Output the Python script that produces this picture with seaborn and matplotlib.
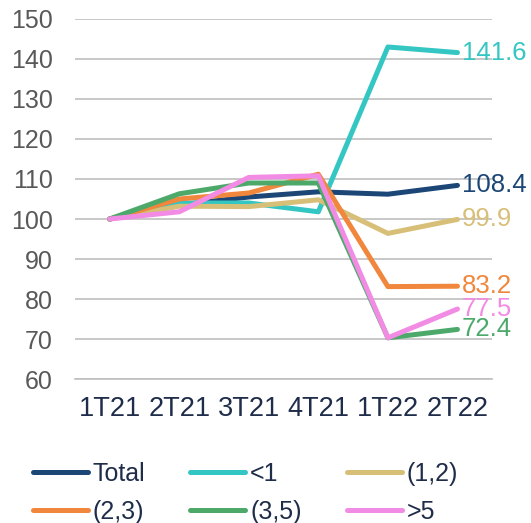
import numpy as np
import pandas as pd
import seaborn as sns
import matplotlib.pyplot as plt
from matplotlib.lines import Line2D

quarters = ['1T21', '2T21', '3T21', '4T21', '1T22', '2T22']
series_names = ['Total', '<1', '(1,2)', '(2,3)', '(3,5)', '>5']

total = [100, 103.5, 105.5, 106.8, 106.2, 108.4]
lt1 = [100, 104.0, 104.0, 101.8, 143.0, 141.6]
r12 = [100, 103.2, 103.1, 104.8, 96.4, 99.9]
r23 = [100, 105.0, 106.5, 111.2, 83.1, 83.2]
r35 = [100, 106.3, 109.0, 109.0, 70.3, 72.4]
gt5 = [100, 101.8, 110.4, 110.8, 70.3, 77.5]

colors = ['#1B4676', '#33C6C3', '#D8BF78', '#F0873C', '#4CA96A', '#F28BE3']

sns.set_style('white')
plt.rcParams['font.family'] = ['Liberation Sans', 'DejaVu Sans']

# long form table for seaborn
values = [total, lt1, r12, r23, r35, gt5]
rows = []
for name, vals in zip(series_names, values):
    for i, v in enumerate(vals):
        rows.append({'pos': i, 'serie': name, 'valor': v})
df = pd.DataFrame(rows)

fig = plt.figure(figsize=(5.31, 5.23), dpi=100)
ax = fig.add_axes([0.141, 0.2753, 0.786, 0.6884])

sns.lineplot(data=df, x='pos', y='valor', hue='serie', hue_order=series_names,
             palette=colors, linewidth=3.6, legend=False, ax=ax,
             solid_capstyle='round', solid_joinstyle='round')

ax.set_ylim(60, 150)
ax.set_xlim(-0.5, 5.5)
ax.set_yticks(np.arange(60, 151, 10))
ax.yaxis.grid(True, color='#BFBFBF', linewidth=1.2)
ax.set_axisbelow(True)
for s in ['top', 'right', 'left']:
    ax.spines[s].set_visible(False)
ax.spines['bottom'].set_color('#BFBFBF')
ax.spines['bottom'].set_linewidth(1.2)

ax.set_xticks(np.arange(-0.5, 6, 1))
ax.set_xticklabels([])
ax.set_xticks(range(6), minor=True)
ax.set_xticklabels(quarters, minor=True)
ax.tick_params(axis='x', which='major', length=5, color='#BFBFBF', width=1.2, direction='out')
ax.tick_params(axis='x', which='minor', length=0, pad=12, labelsize=19.5, labelcolor='#1F2D4A')
ax.tick_params(axis='y', length=0, pad=16, labelsize=18, labelcolor='#595959')
ax.set_xlabel('')
ax.set_ylabel('')

# etiquetas al final de cada serie
for name, vals, c in zip(series_names, values, colors):
    ax.annotate(f'{vals[-1]:.1f}', xy=(5, vals[-1]), xytext=(3, 0),
                textcoords='offset points', ha='left', va='center',
                fontsize=18.5, color=c, annotation_clip=False)

# leyenda por filas (matplotlib llena por columnas)
order = [0, 3, 1, 4, 2, 5]
handles = [Line2D([0], [0], color=colors[i], linewidth=3.6, solid_capstyle='round') for i in order]
labels = [series_names[i] for i in order]
fig.legend(handles, labels, loc='center', bbox_to_anchor=(0.462, 0.058), ncol=3,
           frameon=False, fontsize=18, handlelength=2.2, handletextpad=0.2,
           columnspacing=1.8, labelspacing=0.55, labelcolor='#1F2D4A')

plt.savefig('out.png', dpi=100)
